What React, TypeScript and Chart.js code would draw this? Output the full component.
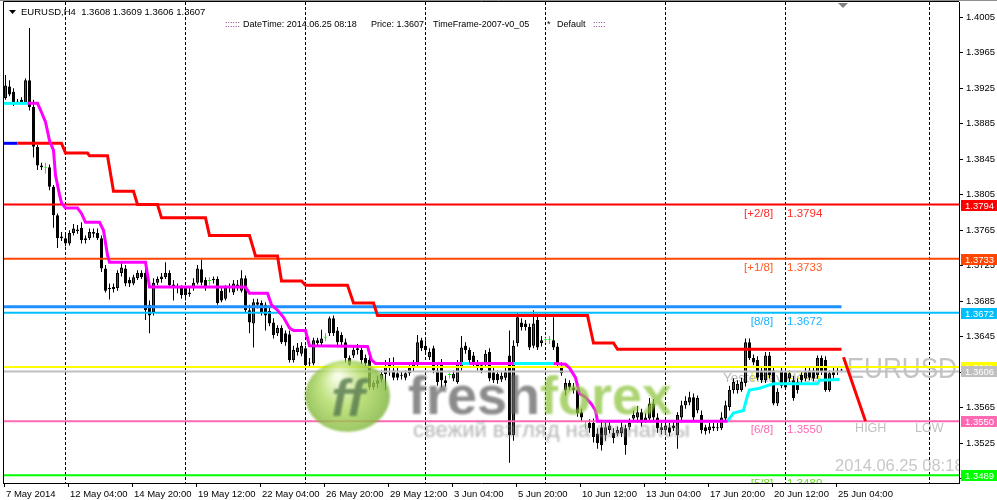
import React, { useEffect, useRef } from 'react';
import { Chart, registerables } from 'chart.js';
Chart.register(...registerables);

// ---- Candles (H4 EURUSD), prices in 1/10000 (13914 = 1.3914), bar index 0..209
const OPEN = [13914,13927,13921,13909,13912,13909,13934,13904,13859,13838,
13835,13836,13814,13782,13758,13756,13750,13762,13766,13768,
13756,13756,13763,13762,13756,13722,13700,13701,13700,13717,
13722,13709,13705,13711,13717,13717,13681,13673,13706,13710,
13712,13717,13704,13701,13700,13700,13693,13701,13706,13721,
13709,13708,13709,13710,13697,13688,13700,13695,13704,13697,
13711,13675,13660,13684,13683,13681,13674,13661,13649,13655,
13649,13648,13619,13628,13626,13632,13616,13615,13641,13638,
13644,13649,13666,13652,13647,13639,13621,13624,13630,13630,
13621,13619,13588,13592,13597,13603,13612,13607,13604,13602,
13599,13604,13610,13615,13641,13635,13622,13632,13607,13615,
13596,13602,13598,13594,13610,13635,13630,13624,13615,13613,
13613,13628,13605,13603,13597,13599,13624,13534,13638,13661,
13660,13656,13635,13664,13638,13641,13641,13641,13634,13612,
13585,13593,13588,13585,13560,13545,13548,13548,13536,13543,
13534,13540,13537,13536,13536,13542,13543,13553,13554,13560,
13551,13553,13570,13554,13543,13540,13543,13545,13534,13554,
13568,13571,13577,13562,13557,13543,13540,13544,13543,13542,
13553,13566,13585,13585,13585,13593,13639,13621,13619,13607,
13596,13624,13607,13570,13607,13605,13598,13596,13594,13602,
13598,13607,13607,13602,13621,13619,13585,13605,13607,13608];
const HIGH = [13940,13934,13925,13913,13915,13936,13993,13912,13861,13841,
13841,13839,13816,13784,13763,13761,13765,13772,13771,13774,
13759,13767,13767,13767,13759,13726,13705,13705,13720,13729,
13726,13712,13715,13720,13720,13722,13686,13711,13713,13717,
13729,13720,13709,13705,13703,13702,13700,13711,13726,13732,
13712,13712,13713,13713,13702,13703,13705,13709,13709,13720,
13714,13681,13688,13688,13686,13684,13678,13666,13658,13658,
13652,13652,13635,13638,13639,13635,13621,13644,13644,13653,
13649,13668,13669,13656,13650,13643,13624,13635,13637,13633,
13625,13624,13596,13601,13607,13619,13621,13622,13610,13606,
13607,13613,13619,13647,13644,13641,13632,13635,13615,13620,
13601,13605,13607,13619,13646,13639,13633,13628,13619,13616,
13630,13632,13610,13607,13605,13610,13652,13641,13672,13666,
13664,13660,13675,13668,13646,13644,13646,13667,13638,13616,
13598,13596,13593,13589,13564,13550,13552,13553,13542,13551,
13549,13551,13542,13544,13549,13546,13553,13562,13567,13564,
13559,13576,13575,13559,13548,13550,13548,13551,13560,13573,
13578,13583,13581,13579,13562,13546,13548,13548,13548,13560,
13573,13590,13598,13596,13599,13643,13643,13625,13623,13612,
13628,13628,13612,13587,13612,13610,13607,13601,13598,13606,
13610,13612,13612,13624,13624,13623,13607,13610,13612,13609];
const LOW = [13912,13916,13905,13907,13907,13907,13900,13847,13833,13833,
13829,13810,13768,13745,13753,13747,13748,13759,13761,13750,
13750,13754,13757,13754,13718,13695,13687,13695,13697,13713,
13702,13701,13703,13709,13710,13664,13649,13669,13703,13706,
13710,13700,13686,13694,13688,13686,13690,13697,13704,13703,
13697,13703,13705,13681,13684,13686,13695,13692,13697,13695,
13673,13649,13633,13677,13669,13652,13657,13643,13646,13637,
13635,13616,13616,13624,13623,13611,13612,13613,13634,13634,
13640,13646,13646,13635,13635,13616,13610,13621,13625,13614,
13611,13585,13585,13587,13594,13585,13601,13596,13596,13597,
13596,13601,13606,13612,13629,13626,13619,13604,13590,13588,
13589,13598,13595,13592,13607,13626,13615,13612,13607,13604,
13610,13595,13593,13592,13594,13596,13503,13528,13634,13652,
13652,13630,13632,13630,13634,13638,13637,13630,13612,13601,
13579,13585,13581,13555,13549,13541,13537,13526,13519,13517,
13528,13536,13525,13533,13532,13512,13540,13550,13551,13544,
13548,13550,13551,13537,13535,13536,13533,13539,13519,13551,
13564,13568,13551,13559,13536,13535,13536,13539,13539,13540,
13551,13562,13581,13581,13583,13589,13619,13613,13596,13593,
13593,13598,13568,13567,13587,13585,13594,13573,13581,13593,
13595,13596,13595,13598,13602,13583,13583,13598,13602,13606];
const CLOSE = [13928,13918,13908,13910,13909,13934,13904,13859,13838,13836,
13835,13814,13782,13756,13756,13750,13762,13767,13764,13754,
13754,13763,13761,13756,13722,13697,13699,13699,13717,13723,
13705,13705,13712,13717,13712,13675,13669,13706,13710,13713,
13717,13703,13701,13700,13692,13692,13695,13706,13722,13706,
13701,13708,13710,13683,13686,13700,13702,13705,13701,13711,
13675,13661,13684,13681,13673,13669,13660,13647,13655,13639,
13639,13619,13630,13633,13635,13613,13615,13641,13638,13643,
13644,13666,13649,13639,13639,13621,13613,13630,13632,13619,
13615,13588,13593,13596,13603,13612,13615,13599,13599,13601,
13604,13610,13614,13639,13632,13630,13628,13607,13594,13596,
13593,13602,13603,13615,13633,13630,13619,13615,13611,13607,
13626,13598,13596,13596,13601,13605,13534,13635,13667,13656,
13656,13633,13660,13633,13641,13641,13641,13633,13615,13604,
13593,13588,13585,13559,13554,13545,13542,13532,13525,13523,
13543,13545,13531,13540,13543,13523,13548,13557,13560,13548,
13554,13570,13554,13542,13540,13545,13537,13542,13557,13568,
13573,13577,13554,13576,13540,13539,13544,13542,13542,13554,
13568,13585,13594,13592,13594,13639,13621,13616,13599,13596,
13624,13602,13570,13583,13590,13588,13604,13576,13585,13596,
13605,13599,13598,13621,13605,13585,13604,13602,13605,13607];

// ---- Axes
const X_TICK_BARS = [0, 16, 32, 48, 64, 80, 96, 112, 128, 144, 160, 176, 192, 208];
const X_TICK_LABELS = ['7 May 2014', '12 May 04:00', '14 May 20:00', '19 May 12:00', '22 May 04:00', '26 May 20:00', '29 May 12:00', '3 Jun 04:00', '5 Jun 20:00', '10 Jun 12:00', '13 Jun 04:00', '17 Jun 20:00', '20 Jun 12:00', '25 Jun 04:00'];
const Y_TICKS = [1.4005, 1.3965, 1.3925, 1.3885, 1.3845, 1.3805, 1.3765, 1.3725, 1.3685, 1.3645, 1.3605, 1.3565, 1.3525, 1.3485];
const GRID_BARS = [15, 45, 75, 105, 135, 165, 195, 231];

// ---- Murrey-style levels
const LEVEL_VALUES = [1.3794, 1.3733, 1.3672, 1.3611, 1.3606, 1.3550, 1.3489];
const LEVEL_COLORS = ['#ff0000', '#ff4500', '#00bfff', '#ffff00', '#c0c0c0', '#ff69b4', '#00ff00'];
const LEVEL_TAGS = ['[+2/8]', '[+1/8]', '[8/8]', '[7/8]', '', '[6/8]', '[5/8]'];
const LEVEL_TEXT_COLORS = ['#ff2a2a', '#ff5a1e', '#1ab2ff', '#e6e600', '', '#ff69b4', '#66dd22'];
const MID_LINE_VALUE = 1.3679;
const MID_LINE_X = [-1, 209];

// ---- Indicator lines (bar index, price)
const BLUE_X = [-0.5, 3];
const BLUE_Y = [1.3863, 1.3863];
const RED_X = [3, 14, 15, 20.5, 21, 25.5, 27, 32, 33, 38, 39, 50, 51, 61, 62.5, 68, 69, 74, 75, 85.5, 87, 92, 93, 145.5, 147, 152, 153, 209];
const RED_Y = [1.3863, 1.3863, 1.3852, 1.3852, 1.3849, 1.3849, 1.3809, 1.3809, 1.3794, 1.3794, 1.3779, 1.3779, 1.3759, 1.3759, 1.3736, 1.3736, 1.3708, 1.3708, 1.3703, 1.3703, 1.3683, 1.3683, 1.3669, 1.3669, 1.3638, 1.3638, 1.3631, 1.3631];
const CYAN_A_X = [-0.5, 5.5];
const CYAN_A_Y = [1.3908, 1.3908];
const MAG_A_X = [5.5, 8, 9, 10, 11, 12, 12.5, 13.5, 14, 15, 18, 19, 20, 23.5, 24.5, 25.5, 26, 35, 36, 60, 61, 65.5, 66.5, 68, 69.5, 71, 72, 75, 76, 90.5, 91.5, 92.5, 114];
const MAG_A_Y = [1.3908, 1.3908, 1.3898, 1.3887, 1.3866, 1.3855, 1.3827, 1.3805, 1.3796, 1.3790, 1.3790, 1.3784, 1.3774, 1.3774, 1.3765, 1.3737, 1.3729, 1.3729, 1.3701, 1.3701, 1.3694, 1.3694, 1.3681, 1.3675, 1.3667, 1.3655, 1.3652, 1.3652, 1.3635, 1.3634, 1.3619, 1.3615, 1.3615];
const CYAN_B_X = [114, 116];
const CYAN_B_Y = [1.3615, 1.3615];
const MAG_B_X = [116, 127];
const MAG_B_Y = [1.3615, 1.3615];
const CYAN_C_X = [127, 137];
const CYAN_C_Y = [1.3615, 1.3615];
const MAG_C_X = [137, 140, 141, 142.5, 143.5, 145, 146.5, 147.5, 148, 180.5];
const MAG_C_Y = [1.3615, 1.3614, 1.3610, 1.3599, 1.3581, 1.3577, 1.3569, 1.3562, 1.3550, 1.3550];
const CYAN_D_X = [180.5, 182, 184.5, 185.5, 186, 188.5, 190.5, 192, 203, 203.5, 208.5];
const CYAN_D_Y = [1.3550, 1.3559, 1.3562, 1.3579, 1.3585, 1.3587, 1.3590, 1.3592, 1.3592, 1.3596, 1.3597];
const DIAG_X = [209.5, 215];
const DIAG_Y = [1.3622, 1.3550];

const HEADER = 'EURUSD,H4  1.3608 1.3609 1.3606 1.3607';
const FF = '"Liberation Sans", Arial, sans-serif';

const P = (v: number) => v / 10000;
const X_MIN = -0.625;
const X_MAX = 238.375;

function lineDs(xs: number[], ys: number[], color: string, width: number, order: number) {
  return {
    type: 'line',
    data: xs.map((x, i) => ({ x, y: ys[i] })),
    borderColor: color,
    backgroundColor: color,
    borderWidth: width,
    pointRadius: 0,
    tension: 0,
    fill: false,
    order,
    clip: 0,
  };
}

const overlay = {
  id: 'overlay',
  beforeDatasetsDraw(chart: any) {
    const { ctx, chartArea: a, scales } = chart;
    const xs = scales.x, ys = scales.y;
    ctx.save();
    ctx.beginPath();
    ctx.rect(a.left, a.top, a.right - a.left, a.bottom - a.top);
    ctx.clip();
    ctx.textBaseline = 'alphabetic';
    LEVEL_VALUES.forEach((v, i) => {
      if (!LEVEL_TAGS[i]) return;
      const y = ys.getPixelForValue(v) + 12;
      ctx.font = `11.5px ${FF}`;
      ctx.fillStyle = LEVEL_TEXT_COLORS[i];
      ctx.textAlign = 'right';
      ctx.fillText(LEVEL_TAGS[i], xs.getPixelForValue(191.9), y);
      ctx.textAlign = 'left';
      ctx.fillText(v.toFixed(4), xs.getPixelForValue(195.4), y);
    });
    ctx.textAlign = 'left';
    ctx.font = `13.5px ${FF}`;
    ctx.fillStyle = '#b8b8b8';
    ctx.fillText('Yesterday close', xs.getPixelForValue(179.4), ys.getPixelForValue(1.3606) + 11);
    ctx.save();
    ctx.font = `29px ${FF}`;
    ctx.fillStyle = '#c4c4c4';
    ctx.translate(xs.getPixelForValue(210.3), ys.getPixelForValue(1.3606) + 7);
    ctx.scale(0.9, 1);
    ctx.fillText('EURUSD', 0, 0);
    ctx.restore();
    ctx.font = `12.5px ${FF}`;
    ctx.fillStyle = '#c0c0c0';
    ctx.fillText('HIGH', xs.getPixelForValue(212.4), ys.getPixelForValue(1.3550) + 11);
    ctx.fillText('LOW', xs.getPixelForValue(227.4), ys.getPixelForValue(1.3550) + 11);
    ctx.font = `16.5px ${FF}`;
    ctx.fillStyle = '#c8c8c8';
    ctx.fillText('2014.06.25 08:18', xs.getPixelForValue(207.4), ys.getPixelForValue(1.3489) - 4);
    ctx.restore();
  },
  afterDatasetsDraw(chart: any) {
    const { ctx, chartArea: a } = chart;
    ctx.save();
    ctx.beginPath();
    ctx.rect(a.left, a.top, a.right - a.left, a.bottom - a.top);
    ctx.clip();
    ctx.filter = 'blur(1px)';
    const g = ctx.createRadialGradient(338, 376, 3, 347, 396, 46);
    g.addColorStop(0, 'rgba(245,252,225,0.85)');
    g.addColorStop(0.45, 'rgba(175,218,95,0.8)');
    g.addColorStop(1, 'rgba(115,172,50,0.8)');
    ctx.fillStyle = g;
    ctx.beginPath();
    ctx.ellipse(347.5, 396, 42.5, 36, 0, 0, Math.PI * 2);
    ctx.fill();
    ctx.textBaseline = 'alphabetic';
    ctx.textAlign = 'center';
    ctx.font = `italic bold 52px ${FF}`;
    ctx.fillStyle = 'rgba(85,120,78,0.8)';
    ctx.fillText('ff', 348, 416);
    ctx.textAlign = 'left';
    ctx.font = `bold 54px ${FF}`;
    ctx.fillStyle = 'rgba(95,95,95,0.72)';
    ctx.fillText('fresh', 408, 414);
    const w = ctx.measureText('fresh').width;
    ctx.fillStyle = 'rgba(140,196,60,0.72)';
    ctx.fillText('forex', 408 + w, 414);
    ctx.font = `22px ${FF}`;
    ctx.fillStyle = 'rgba(150,150,150,0.7)';
    ctx.fillText('свежий взгляд на финансы', 413, 437);
    ctx.restore();
  },
  afterDraw(chart: any) {
    const { ctx, chartArea: a, scales } = chart;
    const ys = scales.y;
    ctx.save();
    ctx.strokeStyle = '#000';
    ctx.lineWidth = 1;
    ctx.beginPath();
    ctx.moveTo(a.left + 0.5, a.bottom);
    ctx.lineTo(a.left + 0.5, a.top - 0.5);
    ctx.lineTo(a.right, a.top - 0.5);
    ctx.stroke();
    ctx.strokeStyle = '#909090';
    ctx.beginPath();
    ctx.moveTo(0, 0.5);
    ctx.lineTo(997, 0.5);
    ctx.stroke();
    ctx.textBaseline = 'alphabetic';
    ctx.textAlign = 'left';
    ctx.font = `9.5px ${FF}`;
    LEVEL_VALUES.forEach((v, i) => {
      const y = Math.round(ys.getPixelForValue(v));
      ctx.fillStyle = LEVEL_COLORS[i];
      ctx.fillRect(a.right + 2, y - 5, 997 - a.right - 2, 11);
      ctx.fillStyle = '#ffffff';
      ctx.fillText(v.toFixed(4), a.right + 6, y + 4);
    });
    ctx.fillStyle = '#000';
    ctx.beginPath();
    ctx.moveTo(9, 10);
    ctx.lineTo(16, 10);
    ctx.lineTo(12.5, 14);
    ctx.closePath();
    ctx.fill();
    ctx.font = `9.5px ${FF}`;
    ctx.fillText(HEADER, 21, 15);
    ctx.font = `9px ${FF}`;
    ctx.fillStyle = '#7a1f7a';
    ctx.fillText('::::::', 225, 26.5);
    ctx.fillText(':::::', 593, 26.5);
    ctx.fillStyle = '#000';
    ctx.fillText('DateTime: 2014.06.25 08:18', 243, 26.5);
    ctx.fillText('Price: 1.3607', 371, 26.5);
    ctx.fillText('TimeFrame-2007-v0_05', 433, 26.5);
    ctx.fillText('*', 547, 26.5);
    ctx.fillText('Default', 557, 26.5);
    ctx.fillStyle = '#808080';
    ctx.beginPath();
    ctx.moveTo(838, 3);
    ctx.lineTo(848, 3);
    ctx.lineTo(843, 8);
    ctx.closePath();
    ctx.fill();
    ctx.restore();
  },
};

export default function App() {
  const ref = useRef<HTMLCanvasElement>(null);
  useEffect(() => {
    document.body.style.margin = '0';
    const isDoji = (i: number) => OPEN[i] === CLOSE[i];
    const bodyData = OPEN.map((o, i) => ({ x: i, y: [P(o), P(CLOSE[i])] }));
    const wickData = OPEN.map((_, i) => ({ x: i, y: [P(LOW[i]), P(HIGH[i])] }));
    const bodyBg = OPEN.map((o, i) => (isDoji(i) ? '#00ff00' : CLOSE[i] > o ? '#ff0000' : '#000000'));
    const bodyBorder = OPEN.map((_, i) => (isDoji(i) ? '#00ff00' : '#000000'));
    const wickColor = OPEN.map((_, i) => (isDoji(i) ? '#00ff00' : '#000000'));

    const datasets: any[] = [
      {
        type: 'bar', data: wickData, backgroundColor: wickColor, borderWidth: 0,
        barThickness: 1, maxBarThickness: 1, grouped: false, inflateAmount: 0, order: 9, clip: 0,
      },
      {
        type: 'bar', data: bodyData, backgroundColor: bodyBg, borderColor: bodyBorder, borderWidth: 1,
        borderSkipped: false, minBarLength: 1, barThickness: 3, maxBarThickness: 3, grouped: false,
        inflateAmount: 0, order: 8, clip: 0,
      },
    ];
    LEVEL_VALUES.forEach((v, i) => {
      datasets.push(lineDs([-1, 240], [v, v], LEVEL_COLORS[i], 2, 5));
    });
    datasets.push(lineDs(MID_LINE_X, [MID_LINE_VALUE, MID_LINE_VALUE], '#1e90ff', 3, 5));
    datasets.push(lineDs(RED_X, RED_Y, '#ff0000', 3, 2));
    datasets.push(lineDs(BLUE_X, BLUE_Y, '#0000ff', 3, 2));
    datasets.push(lineDs(MAG_A_X, MAG_A_Y, '#ff00ff', 3, 1));
    datasets.push(lineDs(MAG_B_X, MAG_B_Y, '#ff00ff', 3, 1));
    datasets.push(lineDs(MAG_C_X, MAG_C_Y, '#ff00ff', 3, 1));
    datasets.push(lineDs(CYAN_A_X, CYAN_A_Y, '#00ffff', 3, 1));
    datasets.push(lineDs(CYAN_B_X, CYAN_B_Y, '#00ffff', 3, 1));
    datasets.push(lineDs(CYAN_C_X, CYAN_C_Y, '#00ffff', 3, 1));
    datasets.push(lineDs(CYAN_D_X, CYAN_D_Y, '#00ffff', 3, 1));
    datasets.push(lineDs(DIAG_X, DIAG_Y, '#ff0000', 3, 1));

    const tickFont = { family: FF, size: 9.5 };
    const chart = new Chart(ref.current as HTMLCanvasElement, {
      type: 'bar',
      data: { datasets },
      plugins: [overlay],
      options: {
        animation: false,
        responsive: false,
        devicePixelRatio: 1,
        events: [],
        layout: { padding: { left: 3, top: 2, right: 0, bottom: 0 } },
        plugins: { legend: { display: false }, tooltip: { enabled: false }, title: { display: false } },
        scales: {
          x: {
            type: 'linear', position: 'bottom', min: X_MIN, max: X_MAX, offset: false,
            afterBuildTicks: (s: any) => { s.ticks = X_TICK_BARS.map((b) => ({ value: b - 0.375 })); },
            afterFit: (s: any) => { s.height = 17; s.paddingLeft = 0; s.paddingRight = 0; },
            ticks: {
              autoSkip: false, maxRotation: 0, minRotation: 0, align: 'start', labelOffset: 2, padding: 2,
              color: '#000', font: tickFont,
              callback: (_v: any, i: number) => X_TICK_LABELS[i],
            },
            grid: { offset: false, drawOnChartArea: false, drawTicks: true, tickLength: 4, color: '#000', tickColor: '#000' },
            border: { display: true, color: '#000', width: 1 },
          },
          x2: {
            type: 'linear', position: 'top', min: X_MIN, max: X_MAX, offset: false,
            afterBuildTicks: (s: any) => { s.ticks = GRID_BARS.map((b) => ({ value: b })); },
            afterFit: (s: any) => { s.height = 0; s.paddingLeft = 0; s.paddingRight = 0; },
            ticks: { display: false },
            grid: { offset: false, drawOnChartArea: true, drawTicks: false, color: '#000', lineWidth: 1 },
            border: { display: false, dash: [3, 2] },
          },
          y: {
            type: 'linear', position: 'right', min: 1.34803, max: 1.40222,
            afterBuildTicks: (s: any) => { s.ticks = Y_TICKS.map((v) => ({ value: v })); },
            afterFit: (s: any) => { s.width = 38; s.paddingTop = 0; s.paddingBottom = 0; },
            ticks: { color: '#000', font: tickFont, padding: 3, callback: (v: any) => Number(v).toFixed(4) },
            grid: { drawOnChartArea: false, drawTicks: true, tickLength: 4, color: '#000' },
            border: { display: true, color: '#000', width: 1 },
          },
        },
      } as any,
    } as any);
    return () => chart.destroy();
  }, []);
  return (
    <div style={{ width: 997, height: 500, position: 'relative' }}>
      <canvas ref={ref} width={997} height={500} style={{ display: 'block', width: 997, height: 500 }} />
    </div>
  );
}
